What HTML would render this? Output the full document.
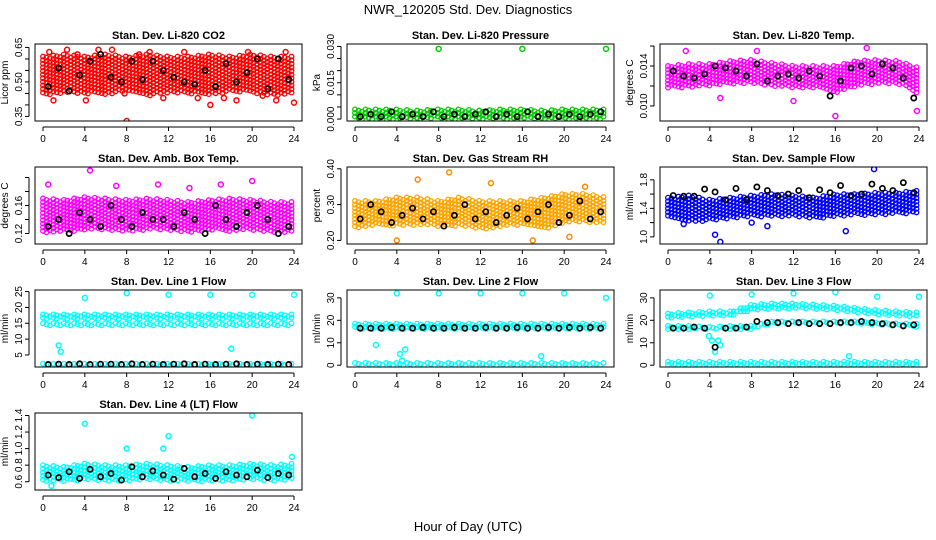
<!DOCTYPE html>
<html><head><meta charset="utf-8"><style>
body{margin:0;background:#fff}
svg{display:block;font-family:"Liberation Sans",Arial,sans-serif}
</style></head><body>
<svg id="chart" width="936" height="540" viewBox="0 0 936 540">
<text x="468" y="14" text-anchor="middle" font-size="13">NWR_120205  Std. Dev. Diagnostics</text>
<text x="468" y="531" text-anchor="middle" font-size="13">Hour of Day (UTC)</text>
</svg>
<script>
const xTicks=[0,4,8,12,16,20,24];
const bandHours=[0,2,4,6,8,10,12,14,16,18,20,22,24];
const blackHours=[0.5,1.5,2.5,3.5,4.5,5.5,6.5,7.5,8.5,9.5,10.5,11.5,12.5,13.5,14.5,15.5,16.5,17.5,18.5,19.5,20.5,21.5,22.5,23.5];

const co2Lo=[0.44,0.45,0.45,0.44,0.46,0.44,0.45,0.45,0.44,0.46,0.45,0.44,0.45];
const co2Hi=[0.61,0.62,0.61,0.62,0.61,0.62,0.61,0.61,0.62,0.61,0.62,0.61,0.61];
const co2Black=[0.48,0.56,0.46,0.53,0.59,0.62,0.52,0.50,0.59,0.51,0.59,0.55,0.52,0.50,0.49,0.55,0.48,0.58,0.50,0.54,0.60,0.47,0.60,0.51];
const co2OutX=[8,16,24,1,5.3,13.5,23.2,2.3,7.8,11.5,0.6,3.3,6.6,9.2,14.8,18.5,21,22.3,4.1,10.2,17.3,19.6];
const co2OutY=[0.33,0.40,0.41,0.42,0.64,0.63,0.63,0.64,0.45,0.43,0.63,0.62,0.64,0.62,0.43,0.42,0.44,0.42,0.42,0.63,0.43,0.63];

const presLo=[0,0,0,0,0,0,0,0,0,0,0,0,0];
const presHi=[0.004,0.004,0.004,0.0035,0.004,0.004,0.0035,0.004,0.004,0.0035,0.004,0.004,0.004];
const presBlack=[0.001,0.002,0.001,0.003,0.001,0.002,0.001,0.003,0.001,0.002,0.001,0.002,0.003,0.001,0.002,0.001,0.003,0.001,0.002,0.001,0.002,0.001,0.002,0.003];
const presOutX=[8,16,24];
const presOutY=[0.029,0.029,0.029];

const tempLo=[0.0118,0.0118,0.0120,0.0122,0.0122,0.0120,0.0118,0.0118,0.0112,0.0120,0.0122,0.0122,0.0112];
const tempHi=[0.0140,0.0142,0.0142,0.0145,0.0146,0.0143,0.0140,0.0140,0.0140,0.0145,0.0146,0.0145,0.0138];
const tempBlack=[0.0135,0.0130,0.0128,0.0132,0.0140,0.0138,0.0135,0.0130,0.0142,0.0125,0.0130,0.0132,0.0128,0.0135,0.0130,0.0110,0.0125,0.0138,0.0140,0.0132,0.0142,0.0138,0.0128,0.0108];
const tempOutX=[16,23.8,1.7,8.5,19,12,5];
const tempOutY=[0.0090,0.0095,0.0155,0.0155,0.0158,0.0105,0.0108];

const ambLo=[0.120,0.122,0.125,0.125,0.122,0.125,0.125,0.122,0.125,0.122,0.125,0.122,0.120];
const ambHi=[0.170,0.168,0.172,0.170,0.168,0.170,0.168,0.165,0.168,0.170,0.168,0.165,0.165];
const ambBlack=[0.13,0.14,0.12,0.15,0.14,0.13,0.16,0.14,0.13,0.15,0.14,0.14,0.13,0.15,0.14,0.12,0.16,0.14,0.13,0.15,0.16,0.14,0.12,0.13];
const ambOutX=[4.5,0.5,11,7,20,14,17];
const ambOutY=[0.210,0.190,0.190,0.188,0.195,0.185,0.190];

const rhLo=[0.23,0.24,0.24,0.24,0.24,0.24,0.23,0.24,0.24,0.23,0.25,0.25,0.25];
const rhHi=[0.31,0.31,0.32,0.32,0.31,0.32,0.31,0.31,0.31,0.32,0.33,0.33,0.32];
const rhBlack=[0.26,0.30,0.28,0.25,0.27,0.29,0.26,0.28,0.24,0.27,0.30,0.26,0.28,0.25,0.27,0.29,0.26,0.28,0.30,0.25,0.27,0.31,0.26,0.28];
const rhOutX=[4,9,17,22,6,13,20.5];
const rhOutY=[0.20,0.39,0.20,0.35,0.37,0.36,0.21];

const sfLo=[1.25,1.22,1.22,1.25,1.28,1.28,1.28,1.25,1.28,1.30,1.30,1.32,1.32];
const sfHi=[1.55,1.58,1.52,1.55,1.58,1.60,1.58,1.55,1.60,1.60,1.62,1.62,1.65];
const sfBlack=[1.58,1.57,1.57,1.67,1.63,1.52,1.68,1.52,1.70,1.65,1.58,1.60,1.65,1.55,1.66,1.62,1.72,1.58,1.60,1.74,1.68,1.65,1.76,1.62];
const sfOutX=[5,4.5,17,8,19.7,1.5,9.5];
const sfOutY=[0.93,1.03,1.08,1.20,1.95,1.18,1.15];

const l1LoA=[16.3,16.3,16.3,16.3,16.3,16.3,16.3,16.3,16.3,16.3,16.3,16.3,16.3];
const l1HiA=[17.8,17.8,17.8,17.8,17.8,17.8,17.8,17.8,17.8,17.8,17.8,17.8,17.8];
const l1LoC=[14,14,14,14,14,14,14,14,14,14,14,14,14];
const l1HiC=[15,15,15,15,15,15,15,15,15,15,15,15,15];
const l1LoB=[1.8,1.8,1.8,1.8,1.8,1.8,1.8,1.8,1.8,1.8,1.8,1.8,1.8];
const l1HiB=[2.2,2.2,2.2,2.2,2.2,2.2,2.2,2.2,2.2,2.2,2.2,2.2,2.2];
const l1Black=[2,2.1,2,2.2,2,2.1,2.1,2,2.2,2,2.1,2,2.1,2.2,2,2.1,2,2.1,2.2,2,2.1,2,2.1,2];
const l1OutX=[4,8,12,16,20,24,1.5,1.7,18];
const l1OutY=[23,24.5,24,24,24,24,8,6,7];

const l2LoA=[16,16,16,16,16,16,16,16,16,16,16,16,16];
const l2HiA=[18.5,18.5,18.5,18.5,18.5,18.5,18.5,18.5,18.5,18.5,18.5,18.5,18.5];
const l2LoB=[0,0,0,0,0,0,0,0,0,0,0,0,0];
const l2HiB=[1,1,1,1,1,1,1,1,1,1,1,1,1];
const l2Black=[16.5,16.5,16.5,16.8,16.5,16.5,16.8,16.5,16.5,16.8,16.5,16.5,16.8,16.5,16.5,16.8,16.5,16.5,16.8,16.5,16.8,16.5,16.8,16.5];
const l2OutX=[4,8,12,16,20,24,4.3,4.5,2,4.8,17.8];
const l2OutY=[32,32,32,32,32,30,5,2,9,7,4];

const l3LoA=[21,21.5,22,22,24.5,25,25,25,24.5,23.5,22.5,22,21.5];
const l3HiA=[23,23.5,24,24,27,27.5,27.5,27,26.5,25.5,24.5,24,23.5];
const l3LoB=[16,16,16,16,16,18.5,18.5,18.5,18.5,18.5,18,17.5,17];
const l3HiB=[17.5,17.5,17,17.5,17.5,19.5,19.5,19.5,19.5,19.5,19,18.5,18.5];
const l3LoC=[0,0,0,0,0,0,0,0,0,0,0,0,0];
const l3HiC=[1.5,1.5,1.5,1.5,1.5,1.5,1.5,1.5,1.5,1.5,1.5,1.5,1.5];
const l3Black=[16.5,16.5,17,16.5,8,16.5,16.5,17,19.5,19,19,18.5,19,18.5,18.5,18.5,19,19,19.5,19,18.5,18,17.5,18];
const l3OutX=[4,8,12,16,20,24,4.2,4.5,4.8,5,17.3,3.9];
const l3OutY=[31,31.5,32,32.5,30.5,30.5,11,6,11,9,4,13];

const l4Lo=[0.60,0.60,0.62,0.60,0.60,0.62,0.60,0.60,0.60,0.60,0.62,0.60,0.62];
const l4Hi=[0.80,0.78,0.82,0.80,0.80,0.82,0.80,0.78,0.80,0.80,0.82,0.80,0.82];
const l4Black=[0.68,0.65,0.72,0.64,0.75,0.66,0.70,0.62,0.78,0.66,0.73,0.68,0.63,0.76,0.66,0.70,0.64,0.72,0.68,0.66,0.74,0.65,0.70,0.68];
const l4OutX=[20,4,12,11.5,8,0.8,23.8];
const l4OutY=[1.40,1.30,1.15,1.00,1.00,0.55,0.90];

const panels=[
 {name:'co2',title:'Stan. Dev. Li-820 CO2',ylab:'Licor ppm',col:0,row:0,ymin:0.33,ymax:0.665,ticks:[0.35,0.40,0.45,0.50,0.55,0.60,0.65],labels:['0.35','','','0.50','','','0.65'],bands:[['#ff0000',co2Lo,co2Hi]],out:['#ff0000',co2OutX,co2OutY],black:co2Black,step:3.6},
 {name:'pressure',title:'Stan. Dev. Li-820 Pressure',ylab:'kPa',col:1,row:0,ymin:-0.0008,ymax:0.031,ticks:[0,0.005,0.010,0.015,0.020,0.025,0.030],labels:['0.000','','','0.015','','','0.030'],bands:[['#00cc00',presLo,presHi]],out:['#00cc00',presOutX,presOutY],black:presBlack,step:3.6},
 {name:'temp',title:'Stan. Dev. Li-820 Temp.',ylab:'degrees C',col:2,row:0,ymin:0.0085,ymax:0.0162,ticks:[0.010,0.012,0.014,0.016],labels:['0.010','','0.014',''],bands:[['#ff00ff',tempLo,tempHi]],out:['#ff00ff',tempOutX,tempOutY],black:tempBlack,step:3.6},
 {name:'ambbox',title:'Stan. Dev. Amb. Box Temp.',ylab:'degrees C',col:0,row:1,ymin:0.105,ymax:0.215,ticks:[0.12,0.14,0.16,0.18,0.20],labels:['0.12','','0.16','',''],bands:[['#ff00ff',ambLo,ambHi]],out:['#ff00ff',ambOutX,ambOutY],black:ambBlack,step:3.6},
 {name:'rh',title:'Stan. Dev. Gas Stream RH',ylab:'percent',col:1,row:1,ymin:0.19,ymax:0.405,ticks:[0.20,0.30,0.40],labels:['0.20','0.30','0.40'],bands:[['#ffa500',rhLo,rhHi]],out:['#ff8800',rhOutX,rhOutY],black:rhBlack,step:3.6},
 {name:'sampleflow',title:'Stan. Dev. Sample Flow',ylab:'ml/min',col:2,row:1,ymin:0.9,ymax:1.98,ticks:[1.0,1.2,1.4,1.6,1.8],labels:['1.0','','1.4','','1.8'],bands:[['#0000ff',sfLo,sfHi]],out:['#0000ff',sfOutX,sfOutY],black:sfBlack,step:3.6},
 {name:'line1',title:'Stan. Dev. Line 1 Flow',ylab:'ml/min',col:0,row:2,ymin:1.2,ymax:25.5,ticks:[5,10,15,20,25],labels:['5','10','15','20','25'],bands:[['#00ffff',l1LoA,l1HiA],['#00ffff',l1LoC,l1HiC],['#00ffff',l1LoB,l1HiB]],out:['#00ffff',l1OutX,l1OutY],black:l1Black,step:3.2},
 {name:'line2',title:'Stan. Dev. Line 2 Flow',ylab:'ml/min',col:1,row:2,ymin:-0.8,ymax:33.5,ticks:[0,10,20,30],labels:['0','10','20','30'],bands:[['#00ffff',l2LoA,l2HiA],['#00ffff',l2LoB,l2HiB]],out:['#00ffff',l2OutX,l2OutY],black:l2Black,step:3.2},
 {name:'line3',title:'Stan. Dev. Line 3 Flow',ylab:'ml/min',col:2,row:2,ymin:-0.8,ymax:33.5,ticks:[0,10,20,30],labels:['0','10','20','30'],bands:[['#00ffff',l3LoA,l3HiA],['#00ffff',l3LoB,l3HiB],['#00ffff',l3LoC,l3HiC]],out:['#00ffff',l3OutX,l3OutY],black:l3Black,step:3.2},
 {name:'line4',title:'Stan. Dev. Line 4 (LT) Flow',ylab:'ml/min',col:0,row:3,ymin:0.5,ymax:1.43,ticks:[0.6,0.8,1.0,1.2,1.4],labels:['0.6','0.8','1.0','1.2','1.4'],bands:[['#00ffff',l4Lo,l4Hi]],out:['#00ffff',l4OutX,l4OutY],black:l4Black,step:3.6}
];
const NS='http://www.w3.org/2000/svg';
const svg=document.getElementById('chart');
const colX=[35,347,660], boxW=267, rowY=[44,167,290,413], boxH=77;
function mk(tag,attrs,parent){const e=document.createElementNS(NS,tag);for(const k in attrs)e.setAttribute(k,attrs[k]);parent.appendChild(e);return e;}
function interp(arr,h){const i=Math.min(11,Math.floor(h/2));const t=(h-bandHours[i])/2;return arr[i]+(arr[i+1]-arr[i])*t;}
panels.forEach(p=>{
 const g=mk('g',{},svg);
 
 
 const L=colX[p.col],T=rowY[p.row],R=L+boxW,B=T+boxH;
 const xs=h=>L+8+h*(boxW-16)/24;
 const ys=v=>B-(v-p.ymin)/(p.ymax-p.ymin)*boxH;
 const cl=mk('clipPath',{id:'c'+p.name},g);mk('rect',{x:L,y:T,width:boxW,height:boxH},cl);
 const pts=mk('g',{'clip-path':'url(#c'+p.name+')'},g);
 
 
 p.bands.forEach(b=>{
  for(let h=0;h<=24.01;h+=0.33){
   const y1=ys(interp(b[2],h)),y2=ys(interp(b[1],h));
   const k=Math.round(h/0.33);
   const off=(k%3)*p.step/3;
   for(let y=y1+off;y<=y2;y+=p.step){
    mk('circle',{cx:xs(h).toFixed(1),cy:y.toFixed(1),r:2.3,fill:'none',stroke:b[0],'stroke-width':1.3},pts);
   }
  }
 });
 p.out[1].forEach((h,i)=>{mk('circle',{cx:xs(h),cy:ys(p.out[2][i]),r:2.5,fill:'none',stroke:p.out[0],'stroke-width':1.5},pts);});
 p.black.forEach((v,i)=>{mk('circle',{cx:xs(blackHours[i]),cy:ys(v),r:2.6,fill:'none',stroke:'#000','stroke-width':1.7},pts);});
 const box=mk('rect',{x:L,y:T,width:boxW,height:boxH,fill:'none',stroke:'#000','stroke-width':1},g);
 
 
 const t=mk('text',{x:L+boxW/2,y:T-5,'text-anchor':'middle','font-size':11,'font-weight':'bold'},g);t.textContent=p.title;
 
 
 mk('line',{x1:xs(0),x2:xs(24),y1:B+6,y2:B+6,stroke:'#000'},g);
 xTicks.forEach(h=>{mk('line',{x1:xs(h),x2:xs(h),y1:B+6,y2:B+10,stroke:'#000'},g);
  const tx=mk('text',{x:xs(h),y:B+21,'text-anchor':'middle','font-size':10},g);tx.textContent=h;
  
  });
 const t0=p.ticks[0],t1=p.ticks[p.ticks.length-1];
 mk('line',{x1:L-6,x2:L-6,y1:ys(t0),y2:ys(t1),stroke:'#000'},g);
 p.ticks.forEach((v,i)=>{mk('line',{x1:L-10,x2:L-6,y1:ys(v),y2:ys(v),stroke:'#000'},g);
  if(p.labels[i]){const ty=mk('text',{x:L-13,y:ys(v),'text-anchor':'middle','font-size':10,transform:'rotate(-90 '+(L-13)+' '+ys(v)+')'},g);ty.textContent=p.labels[i];
  
  }});
 const yl=mk('text',{x:L-27,y:T+boxH/2,'text-anchor':'middle','font-size':10,transform:'rotate(-90 '+(L-27)+' '+(T+boxH/2)+')'},g);yl.textContent=p.ylab;
 
 
});
</script>
</body></html>
